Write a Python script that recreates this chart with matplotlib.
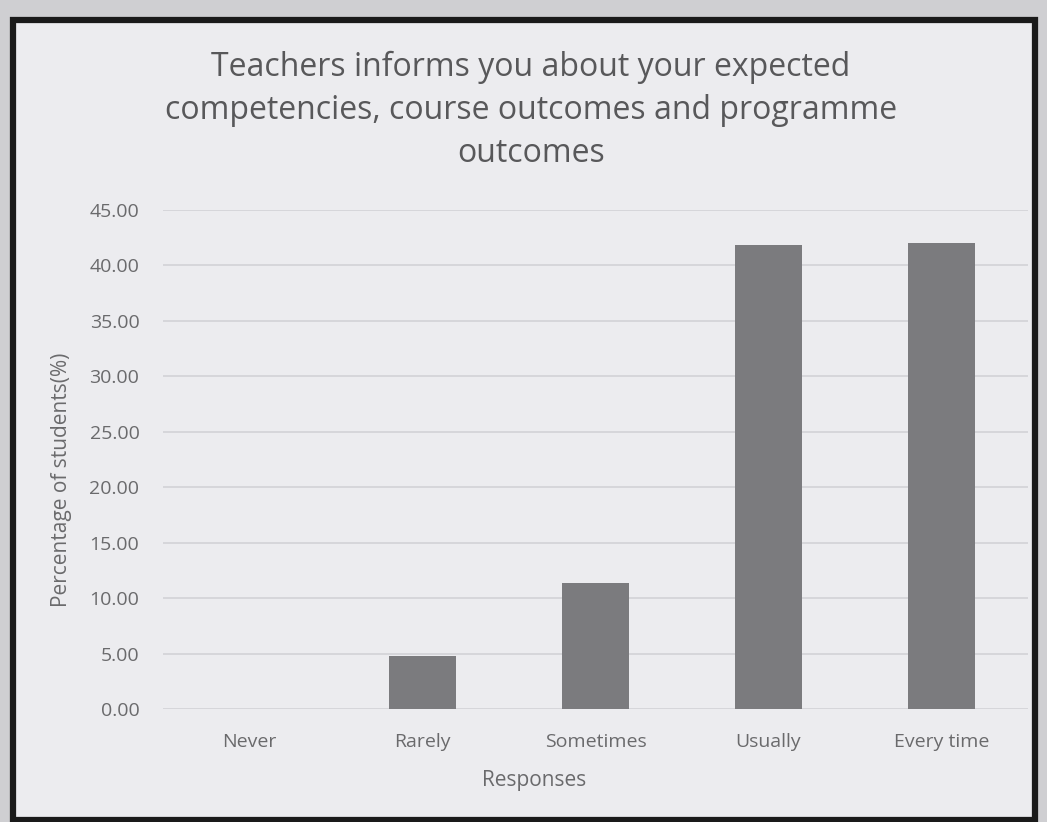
import numpy as np
import matplotlib.pyplot as plt
from matplotlib.patches import Rectangle

# Values
categories = ['Never', 'Rarely', 'Sometimes', 'Usually', 'Every time']
percentages = [0.0, 4.8, 11.4, 41.8, 42.0]
yticks = np.arange(0, 50, 5)

plt.rcParams['font.family'] = ['Open Sans', 'DejaVu Sans']
text_col = '#6a6a6c'

fig = plt.figure(figsize=(10.47, 8.22), dpi=100)
fig.patch.set_facecolor('#cfcfd2')

# paper area with thick black border
W, H = 1047, 822
frame = Rectangle((13 / W, 1 - 820 / H), (1035 - 13) / W, (820 - 20) / H,
                  transform=fig.transFigure, facecolor='#ececef',
                  edgecolor='#1a1a1a', linewidth=4.5, zorder=-5)
fig.patches.append(frame)

ax = fig.add_axes([163 / W, 1 - 709 / H, 865 / W, (709 - 210) / H])
ax.set_facecolor('none')
ax.set_zorder(2)

x = np.arange(len(categories))
ax.bar(x, percentages, width=0.39, color='#7b7b7e', zorder=3)

ax.set_xlim(-0.5, len(categories) - 0.5)
ax.set_ylim(0, 45)
ax.set_yticks(yticks)
ax.set_yticklabels([f'{v:.2f}' for v in yticks])
ax.set_xticks(x)
ax.set_xticklabels(categories)
ax.yaxis.grid(True, color='#d2d2d6', linewidth=1.2, zorder=0)
ax.tick_params(axis='both', length=0, colors=text_col, labelsize=14)
ax.tick_params(axis='x', pad=17)
ax.tick_params(axis='y', pad=17)
for side in ['top', 'right', 'left', 'bottom']:
    ax.spines[side].set_visible(False)

ax.set_xlabel('Responses', fontsize=15, color=text_col)
ax.set_ylabel('Percentage of students(%)', fontsize=15, color=text_col)
ax.xaxis.set_label_coords((534 - 163) / 865, -(780 - 709) / 499)
ax.yaxis.set_label_coords((62 - 163) / 865, (709 - 480) / 499)
ax.xaxis.label.set_va('center')
ax.yaxis.label.set_va('center')

fig.text(0.507, 1 - 110 / H,
         'Teachers informs you about your expected\n'
         'competencies, course outcomes and programme\n'
         'outcomes',
         ha='center', va='center', fontsize=23, color='#58585a',
         linespacing=1.4, zorder=5)

fig.savefig('out.png', dpi=100, facecolor=fig.get_facecolor())
